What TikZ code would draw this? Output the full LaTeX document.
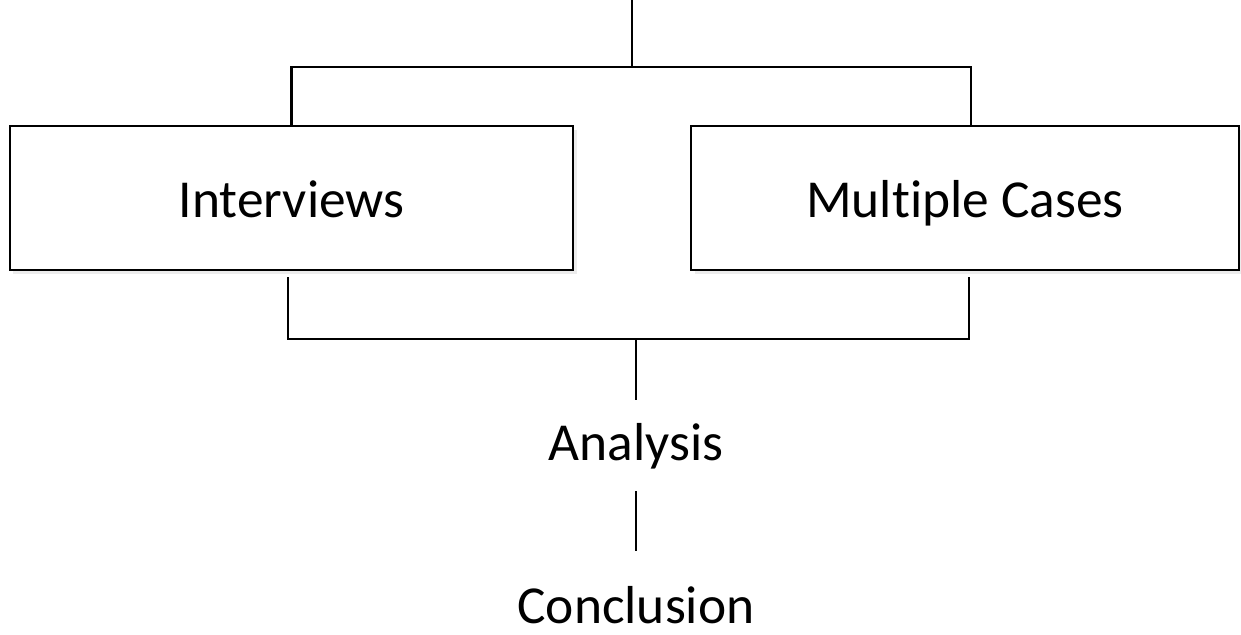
\documentclass[tikz,border=0pt]{standalone}
\usepackage{fontspec}
\setmainfont{Carlito}[Ligatures=NoCommon]
\usetikzlibrary{calc,positioning,shadows}
\tikzset{
  stagebox/.style={draw, line width=0.7pt, fill=white, minimum width=5.63cm,
    minimum height=1.44cm, text height=0.5cm, text depth=0.11cm,
    drop shadow={opacity=0.15, shadow xshift=0.035cm, shadow yshift=-0.035cm}},
  stagetext/.style={inner sep=0.22cm, anchor=base},
  link/.style={line width=0.6pt}
}

\begin{document}
\begin{tikzpicture}[every node/.style={font=\fontsize{15.2}{18}\selectfont}]
\useasboundingbox (0,0) rectangle (12.41,6.34);
\node[stagebox] (intv) at (2.915,4.36) {Interviews};
\node[stagebox, minimum width=5.48cm] (cases) at (9.65,4.36) {Multiple Cases};
\node[stagetext] (analysis) at (6.36,1.74) {Analysis};
\node[stagetext, inner sep=0.04cm] (concl) at (6.36,0.11) {Conclusion};
\coordinate (top) at (6.32,6.34);
\coordinate (split) at (6.32,5.67);
\coordinate (lowL) at (2.88,3.57);
\coordinate (lowR) at (9.69,3.57);
\coordinate (join) at (6.36,2.95);
\draw[link] (top) -- (split);
\draw[link] (intv.north) |- (split) -| ($(cases.north)+(0.06,0)$);
\draw[link] (lowL) |- (join) -| (lowR);
\draw[link] (join) -- (analysis);
\draw[link, shorten >=0.30cm] (analysis) -- (concl);
\end{tikzpicture}
\end{document}
